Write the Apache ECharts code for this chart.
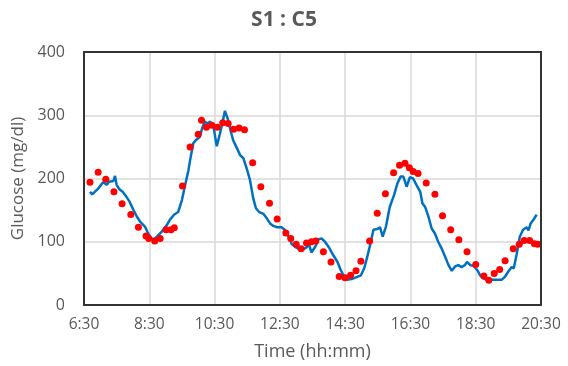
<!DOCTYPE html>
<html>
<head>
<meta charset="utf-8">
<script src="https://cdn.jsdelivr.net/npm/echarts@6/dist/echarts.min.js"></script>
<style>
html,body{margin:0;padding:0;background:#fff;}
#c{width:568px;height:366px;}
</style>
</head>
<body>
<div id="c"></div>
<script>
// Time axis: minutes since 6:30
var tickLabels = ['6:30','8:30','10:30','12:30','14:30','16:30','18:30','20:30'];
var yTicks = [0,100,200,300,400];

// CGM sensor trace (blue line)
var sensorMinutes = [11,15,26,35,42,46,54,57,60,65,71,78,84,91,97,103,112,118,124,129,134,143,152,158,166,173,180,186,192,195,201,206,213,217,222,227,232,238,244,250,255,259,264,270,274,281,287,293,299,305,311,316,322,330,336,342,348,355,363,369,376,382,388,396,403,409,414,418,425,431,437,443,451,458,466,472,478,483,492,501,509,515,520,526,532,539,544,549,555,562,570,576,582,587,593,599,605,611,618,622,627,633,639,645,651,657,664,670,676,682,688,694,700,704,710,716,723,728,734,740,752,768,774,780,786,790,795,801,807,814,817,821,827,832];
var sensorValues = [179,175,184,194,190,195,196,204,190,183,179,171,163,150,140,132,124,113,105,104,108,116,126,135,143,147,166,190,213,229,256,261,266,279,290,287,290,282,251,271,290,307,295,274,261,248,237,232,216,198,169,153,147,144,137,129,125,123,123,119,108,96,92,88,88,91,95,83,92,104,105,100,90,79,68,55,45,40,41,44,47,58,74,95,119,120,123,108,124,155,174,192,203,203,187,202,200,190,179,161,155,140,121,113,100,90,76,63,54,61,63,60,63,68,63,62,55,47,42,40,40,40,45,53,60,58,79,108,119,123,118,129,136,143];

// Reference measurements (red dots)
var refMinutes = [11,26,40,55,70,86,100,114,119,130,140,151,160,166,181,195,210,216,225,235,245,255,265,275,285,295,310,325,341,355,371,380,390,399,409,418,426,440,454,469,480,490,500,509,525,539,554,569,580,590,598,605,614,629,645,659,674,689,704,720,735,744,754,764,774,789,800,809,819,828,834];
var refValues = [194,210,199,179,160,143,123,109,105,101,105,119,119,122,188,250,270,292,281,284,281,288,287,278,280,277,225,187,161,136,114,105,96,89,98,100,101,84,68,45,43,47,54,69,101,145,176,209,221,224,217,211,208,193,175,141,119,103,84,64,46,39,50,56,70,89,96,102,102,97,96];

function pairs(xs, ys){ return xs.map(function(x,i){ return [x, ys[i]]; }); }

var chart = echarts.init(document.getElementById('c'), null, {renderer:'canvas'});
var font = '"Open Sans", "Noto Sans", sans-serif';
chart.setOption({
  animation:false,
  backgroundColor:'#fff',
  title:{
    text:'S1 : C5', left:'center', top:5,
    textStyle:{fontFamily:font, fontSize:21, fontWeight:'bold', color:'#595959'}
  },
  grid:{left:84, right:27, top:52, bottom:61, show:true, borderColor:'#333333', borderWidth:2, backgroundColor:'transparent', z:5},
  xAxis:{
    type:'value', min:0, max:840, interval:120,
    name:'Time (hh:mm)', nameLocation:'middle', nameGap:38,
    nameTextStyle:{fontFamily:font, fontSize:18, color:'#595959'},
    axisLine:{show:false}, axisTick:{show:false},
    axisLabel:{fontFamily:font, fontSize:15.5, color:'#595959', margin:12,
      formatter:function(v){ return tickLabels[Math.round(v/120)]; }},
    splitLine:{show:true, showMinLine:false, showMaxLine:false, lineStyle:{color:'#d9d9d9', width:1.5}}
  },
  yAxis:{
    type:'value', min:yTicks[0], max:yTicks[yTicks.length-1], interval:100,
    name:'Glucose (mg/dl)', nameLocation:'middle', nameGap:55,
    nameTextStyle:{fontFamily:font, fontSize:17, color:'#595959'},
    axisLine:{show:false}, axisTick:{show:false},
    axisLabel:{fontFamily:font, fontSize:16, color:'#595959', margin:19},
    splitLine:{show:true, showMinLine:false, showMaxLine:false, lineStyle:{color:'#d9d9d9', width:1.5}}
  },
  series:[
    {type:'line', data:pairs(sensorMinutes, sensorValues), showSymbol:false,
     lineStyle:{color:'#0070C0', width:2.5}, z:2},
    {type:'scatter', data:pairs(refMinutes, refValues), symbol:'circle', symbolSize:7,
     itemStyle:{color:'#FF0000', opacity:1}, z:3}
  ]
});
</script>
</body>
</html>
